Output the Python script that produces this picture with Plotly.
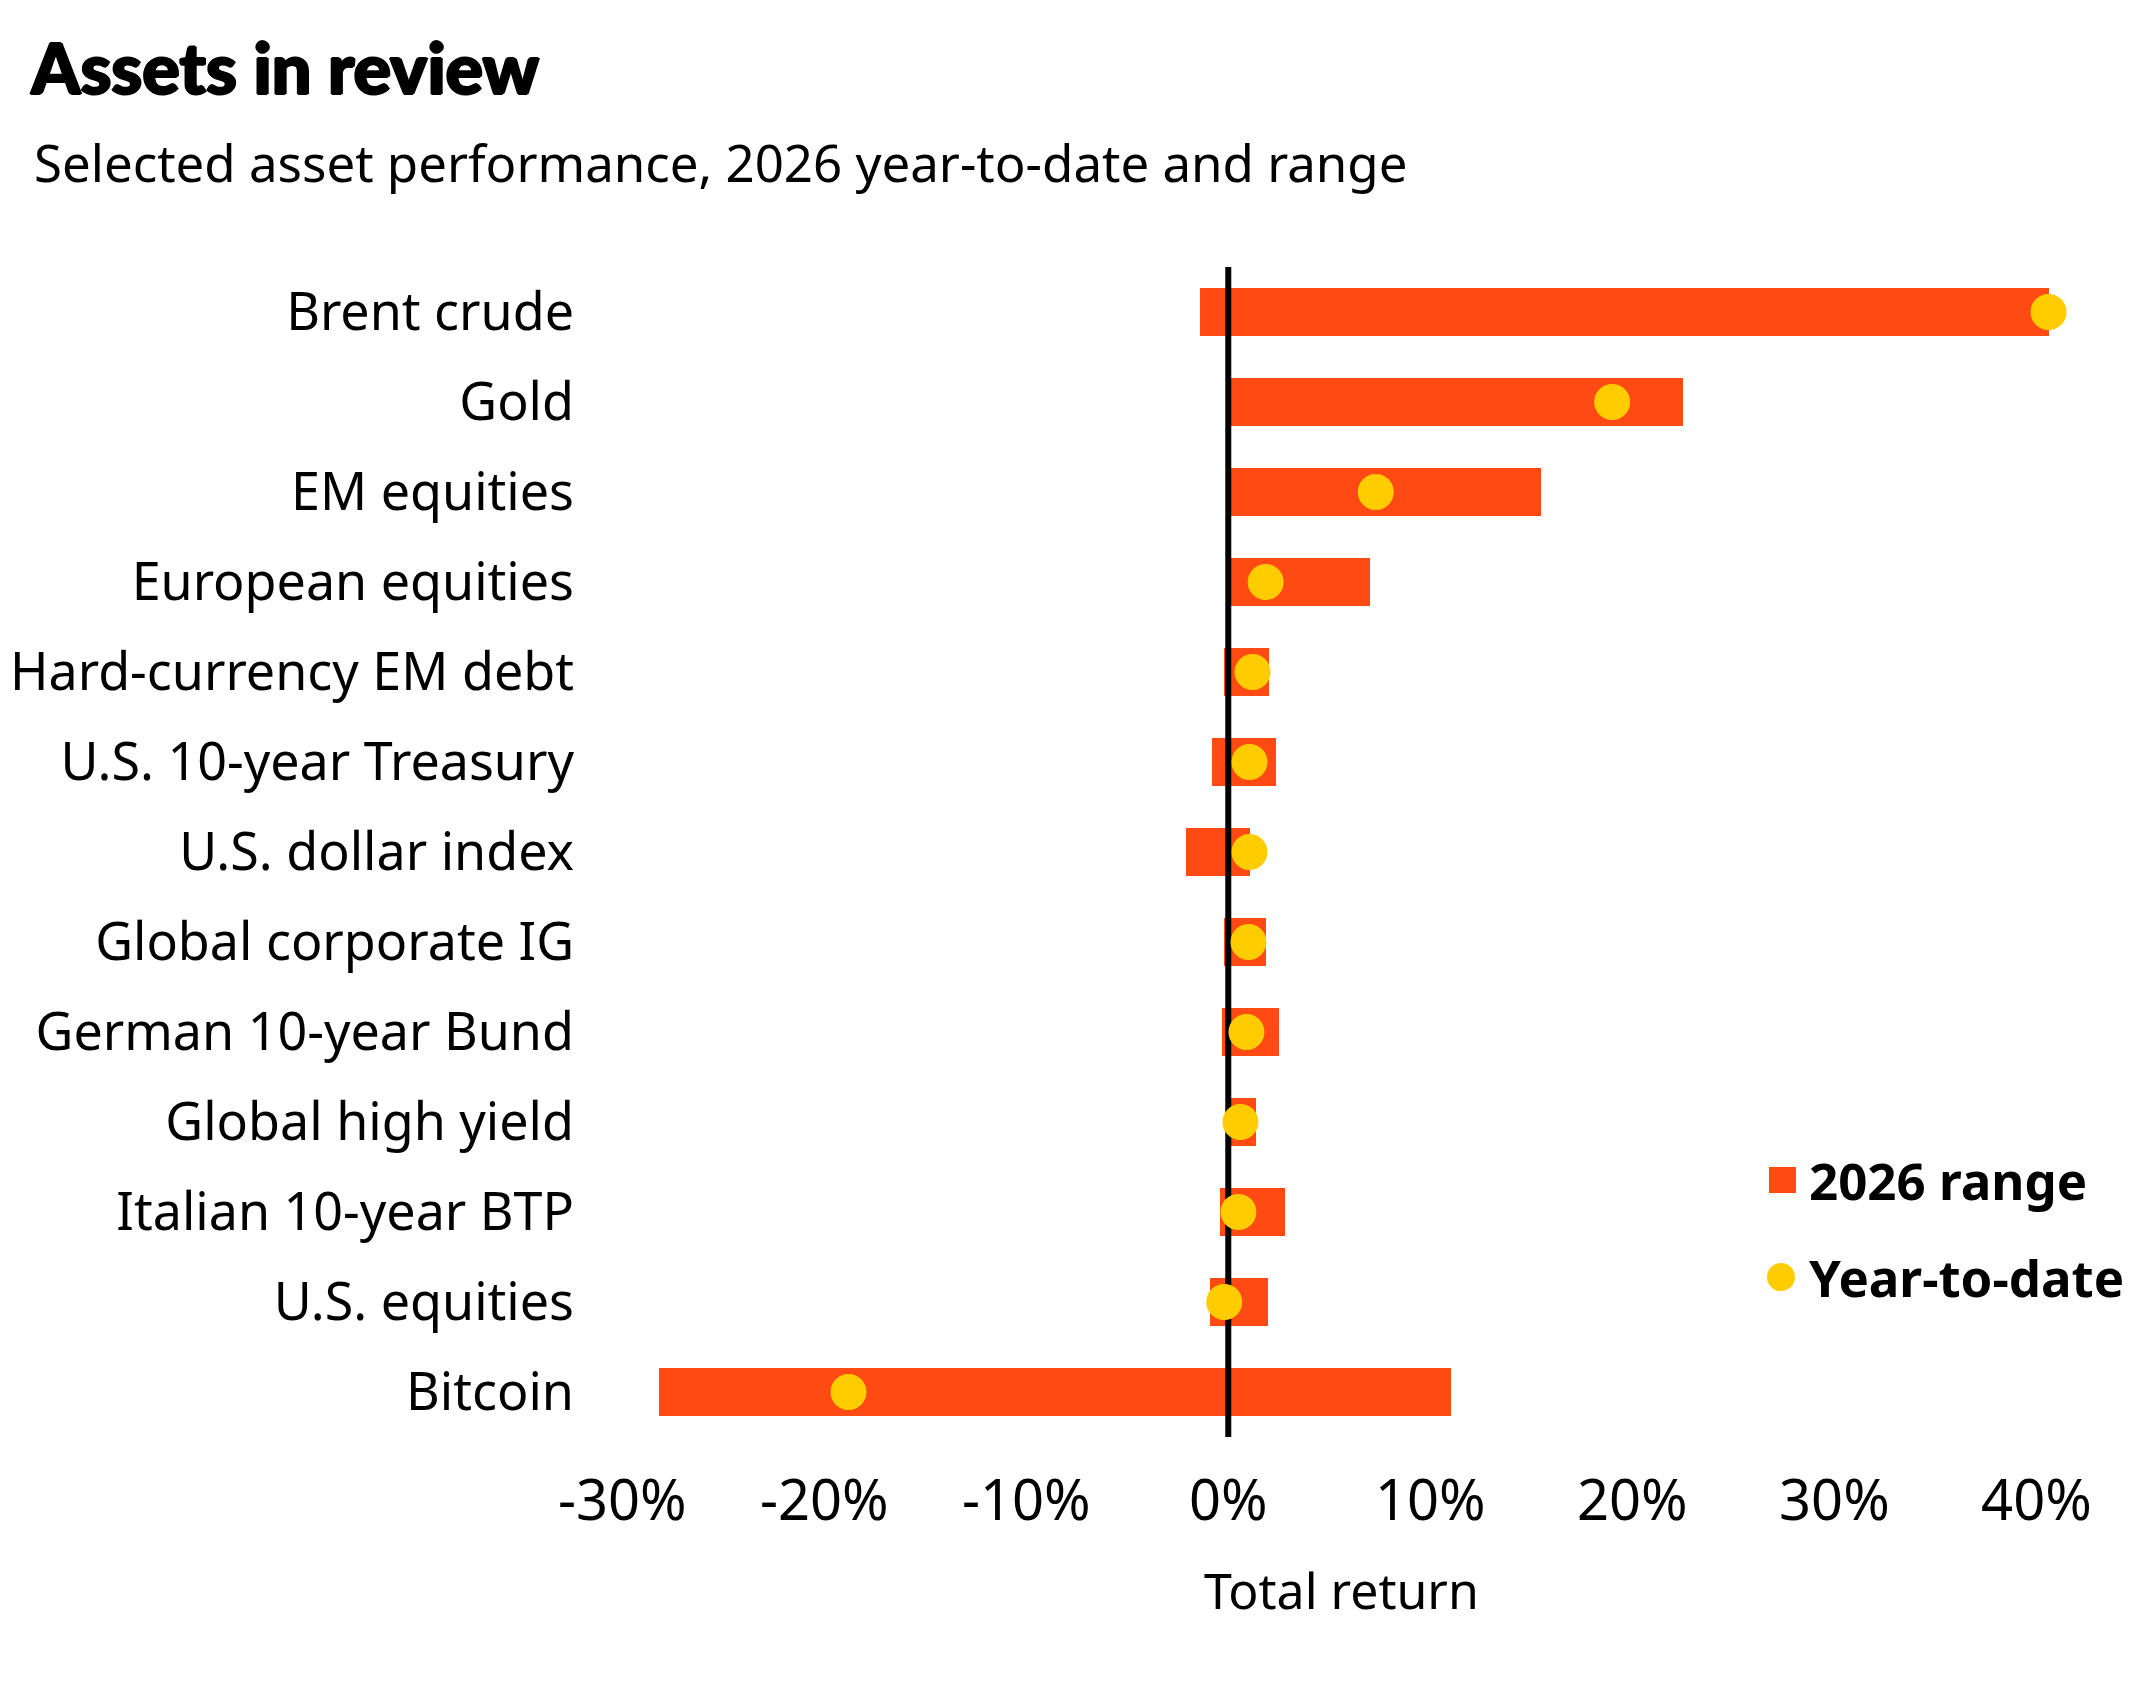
import plotly.graph_objects as go

# ---------------- data ----------------
categories = ["Brent crude", "Gold", "EM equities", "European equities",
              "Hard-currency EM debt", "U.S. 10-year Treasury", "U.S. dollar index",
              "Global corporate IG", "German 10-year Bund", "Global high yield",
              "Italian 10-year BTP", "U.S. equities", "Bitcoin"]
range_low = [-1.4, 0.1, 0.1, 0.1, -0.2, -0.8, -2.1, -0.2, -0.3, 0.1, -0.4, -0.9, -28.2]
range_high = [40.6, 22.5, 15.5, 7.0, 2.0, 2.35, 1.05, 1.85, 2.5, 1.35, 2.8, 1.95, 11.0]
ytd = [40.6, 19.0, 7.3, 1.85, 1.2, 1.05, 1.05, 1.0, 0.9, 0.6, 0.5, -0.2, -18.8]
x_tickvals = [-30, -20, -10, 0, 10, 20, 30, 40]
x_ticktext = ["-30%", "-20%", "-10%", "0%", "10%", "20%", "30%", "40%"]

title_text = "Assets in review"
subtitle_text = "Selected asset performance, 2026 year-to-date and range"
axis_title_text = "Total return"
legend_labels = ["2026 range", "Year-to-date"]

# ---------------- style ----------------
W, H = 2155, 1695          # window size
OFF = 8                    # page body margin
FW, FH = W - 2 * OFF, H - 2 * OFF
L, R, T, B = 602, 2097, 267, 1437   # plot area in window pixels
ORANGE = "#FF4A14"
YELLOW = "#FFCC00"
FONT = "Noto Sans"

def px(X):
    return (X - L) / (R - L)

def py(Y):
    return (B - Y) / (B - T)

ypos = list(range(len(categories)))
widths = [h - l for l, h in zip(range_low, range_high)]

fig = go.Figure()
fig.add_trace(go.Bar(
    y=ypos, x=widths, base=range_low, orientation="h", width=0.54,
    marker=dict(color=ORANGE, line=dict(width=0)), name=legend_labels[0],
    showlegend=False,
))
fig.add_trace(go.Scatter(
    x=[0, 0], y=[-0.5, len(categories) - 0.5], mode="lines",
    line=dict(color="black", width=6), showlegend=False, hoverinfo="skip",
))
fig.add_trace(go.Scatter(
    y=ypos, x=ytd, mode="markers",
    marker=dict(color=YELLOW, size=36, line=dict(width=0)), name=legend_labels[1],
    showlegend=False,
))

fig.update_layout(
    width=FW, height=FH,
    margin=dict(l=L - OFF, r=FW - (R - OFF), t=T - OFF, b=FH - (B - OFF), pad=0,
                autoexpand=False),
    paper_bgcolor="white", plot_bgcolor="white",
    font=dict(family=FONT, size=50, color="black"),
    bargap=0,
    title=dict(text=title_text, xref="container", yref="container",
               x=(31 - OFF) / FW, xanchor="left", y=1 - (69 - OFF) / FH, yanchor="middle",
               automargin=False,
               font=dict(family="Lato", size=70, color="black", weight=900,
                         shadow="1.5px 0px 0px #000, -1px 0px 0px #000, 0px 1px 0px #000, 0px -1px 0px #000")),
    xaxis=dict(range=[-31, 43], tickvals=x_tickvals, ticktext=x_ticktext,
               showgrid=False, zeroline=False, showline=False, ticks="",
               automargin=False, ticklabelstandoff=26,
               tickfont=dict(family=FONT, size=56, color="black")),
    yaxis=dict(range=[len(categories) - 0.5, -0.5], tickvals=ypos, ticktext=categories,
               showgrid=False, zeroline=False, showline=False, ticks="",
               automargin=False, ticklabelstandoff=27,
               tickfont=dict(family=FONT, size=52, color="black")),
    showlegend=False,
)

fig.add_annotation(text=subtitle_text, xref="paper", yref="paper",
                   x=px(32), y=py(162), xanchor="left", yanchor="middle",
                   showarrow=False, font=dict(family=FONT, size=51, color="black"))
fig.add_annotation(text=axis_title_text, xref="paper", yref="paper",
                   x=px(1341), y=py(1590), xanchor="center", yanchor="middle",
                   showarrow=False, font=dict(family=FONT, size=50, color="black"))

# legend (drawn manually to match symbol sizes)
fig.add_shape(type="rect", xref="paper", yref="paper",
              x0=px(1769), x1=px(1796), y0=py(1193), y1=py(1167),
              fillcolor=ORANGE, line=dict(width=0))
fig.add_shape(type="circle", xref="paper", yref="paper",
              x0=px(1767), x1=px(1795), y0=py(1291), y1=py(1263),
              fillcolor=YELLOW, line=dict(width=0))
fig.add_annotation(text="<b>" + legend_labels[0] + "</b>", xref="paper", yref="paper",
                   x=px(1807), y=py(1180), xanchor="left", yanchor="middle",
                   showarrow=False, font=dict(family=FONT, size=51, color="black"))
fig.add_annotation(text="<b>" + legend_labels[1] + "</b>", xref="paper", yref="paper",
                   x=px(1807), y=py(1277), xanchor="left", yanchor="middle",
                   showarrow=False, font=dict(family=FONT, size=51, color="black"))

fig.write_html("out.html")
